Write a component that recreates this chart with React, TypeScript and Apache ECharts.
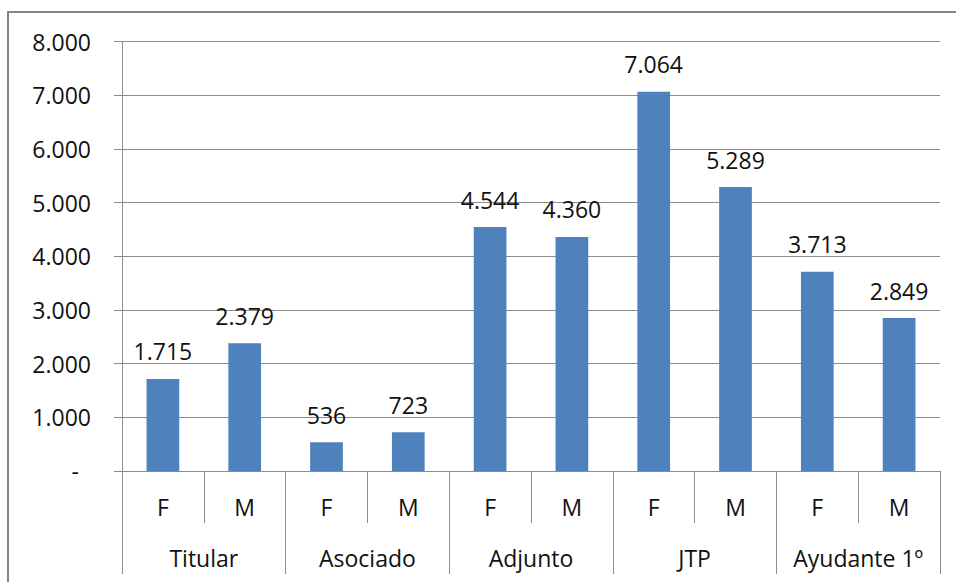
import React, { useEffect, useRef } from "react";
import * as echarts from "echarts";

const subCategories = ["F", "M", "F", "M", "F", "M", "F", "M", "F", "M"];
const groups = ["Titular", "Asociado", "Adjunto", "JTP", "Ayudante 1º"];
const values = [1715, 2379, 536, 723, 4544, 4360, 7064, 5289, 3713, 2849];
const yTicks = { min: 0, max: 8000, interval: 1000 };

const FONT = "'Open Sans', sans-serif";
const GRAY = "#8c8c8c";
const FS = 23;

function fmt(v: number): string {
  return String(Math.round(v)).replace(/\B(?=(\d{3})+(?!\d))/g, ".");
}

export default function App() {
  const ref = useRef<HTMLDivElement>(null);
  useEffect(() => {
    if (!ref.current) return;
    const chart = echarts.init(ref.current, undefined, { renderer: "svg" });
    chart.setOption({
      animation: false,
      backgroundColor: "#ffffff",
      textStyle: { fontFamily: FONT },
      graphic: [
        {
          type: "rect",
          shape: { x: 8, y: 12, width: 1200, height: 1200 },
          style: { fill: "none", stroke: "#868686", lineWidth: 2 },
          silent: true,
        },
      ],
      grid: { left: 122, right: 16, top: 41.5, bottom: 111, containLabel: false },
      xAxis: [
        {
          type: "category",
          data: subCategories,
          position: "bottom",
          axisLine: { show: true, lineStyle: { color: GRAY, width: 1 } },
          axisTick: { show: true, interval: 0, length: 52, lineStyle: { color: GRAY } },
          axisLabel: {
            interval: 0,
            margin: 36,
            verticalAlign: "middle",
            color: "#111",
            fontSize: FS,
            fontFamily: FONT,
          },
        },
        {
          type: "category",
          data: groups,
          position: "bottom",
          axisLine: { show: false },
          axisTick: { show: true, interval: 0, length: 103, lineStyle: { color: GRAY } },
          axisLabel: {
            interval: 0,
            margin: 87,
            verticalAlign: "middle",
            color: "#111",
            fontSize: FS,
            fontFamily: FONT,
          },
        },
      ],
      yAxis: {
        type: "value",
        min: yTicks.min,
        max: yTicks.max,
        interval: yTicks.interval,
        axisLine: { show: true, lineStyle: { color: GRAY } },
        axisTick: { show: true, length: 8, lineStyle: { color: GRAY } },
        splitLine: { show: true, lineStyle: { color: GRAY, width: 1 } },
        axisLabel: {
          margin: 31,
          color: "#111",
          fontSize: FS,
          fontFamily: FONT,
          formatter: (v: number) => (v === 0 ? "{z|-}" : fmt(v)),
          rich: {
            z: { color: "#111", fontSize: FS, fontFamily: FONT, padding: [0, 12, 0, 0] },
          },
        },
      },
      series: [
        {
          type: "bar",
          xAxisIndex: 0,
          data: values,
          barWidth: "40%",
          itemStyle: { color: "#4F81BD" },
          label: {
            show: true,
            position: "top",
            distance: 16,
            color: "#111",
            fontSize: FS,
            fontFamily: FONT,
            formatter: (p: any) => fmt(p.value),
          },
        },
      ],
    });
    return () => chart.dispose();
  }, []);
  return (
    <div
      ref={ref}
      style={{ position: "fixed", left: 0, top: 0, width: 956, height: 582 }}
    />
  );
}
